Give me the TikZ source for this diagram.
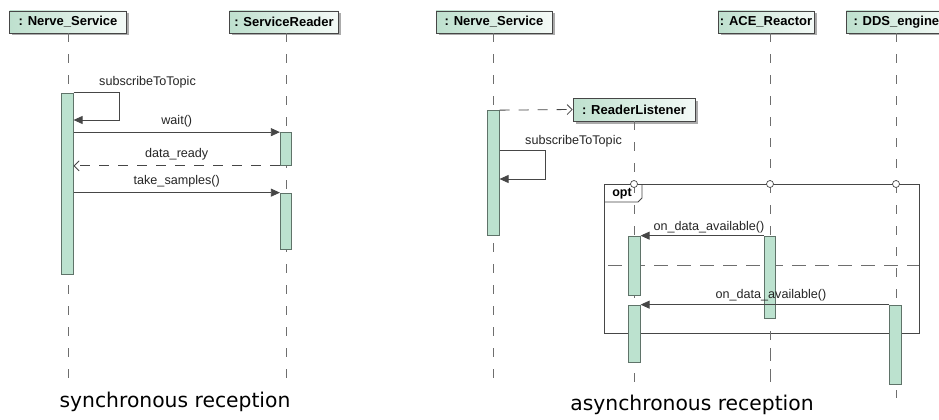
\documentclass[tikz,border=0pt]{standalone}
\usepackage{fontspec}
\setmainfont{Liberation Sans}
\newfontfamily\capfont{DejaVu Sans}
\usetikzlibrary{arrows.meta,shadows,calc}
\definecolor{lineC}{RGB}{70,70,70}
\definecolor{actfill}{RGB}{188,226,207}
\definecolor{actline}{RGB}{95,115,105}
\definecolor{objL}{RGB}{190,224,206}
\definecolor{objR}{RGB}{244,250,247}
\definecolor{shadowC}{RGB}{150,150,150}
\definecolor{lifeC}{RGB}{110,110,110}
\tikzset{
  obj/.style={draw=lineC, line width=0.7pt, left color=objL, right color=objR,
    minimum height=22pt, inner sep=0pt, font=\fontsize{13}{15}\selectfont\bfseries,
    drop shadow={shadow xshift=2.5pt, shadow yshift=-2.5pt, fill=shadowC, opacity=0.8}},
  act/.style={draw=actline, fill=actfill, line width=0.7pt, minimum width=11.5pt, inner sep=0pt},
  life/.style={draw=lifeC, line width=0.7pt, dash pattern=on 9pt off 12pt},
  msg/.style={draw=lineC, line width=0.8pt, -{Triangle[length=9pt,width=8pt]}},
  ret/.style={draw=lineC, line width=0.8pt, dash pattern=on 10pt off 9pt, -{Straight Barb[length=5pt,width=10pt]}},
  lbl/.style={font=\fontsize{12.6}{14}\selectfont, text=black!85, inner sep=0pt},
  frm/.style={draw=lineC, line width=0.8pt},
  captxt/.style={font=\capfont\fontsize{20.3}{23}\selectfont, inner sep=0pt}
}
\begin{document}
\begin{tikzpicture}[x=1pt,y=-1pt]
\useasboundingbox[fill=white] (0,0) rectangle (939,420);

% ---------------- left diagram ----------------
\node[obj, minimum width=117pt] (ns1) at (68,22) {: Nerve\_Service};
\node[obj, minimum width=109pt] (sr1) at (284,22) {: ServiceReader};
\coordinate (ns1end) at (68,390);
\coordinate (sr1end) at (286,390);
\draw[life] (ns1.south -| ns1end) -- (ns1end);
\draw[life] (sr1.south -| sr1end) -- (sr1end);

\node[act, minimum height=181pt] (nsA) at (67.5,183.5) {};
\node[act, minimum height=33pt] (srA1) at (286,149) {};
\node[act, minimum height=56pt] (srA2) at (286,221) {};

\coordinate (loop1) at (119,120);
\draw[msg] (nsA.north east) -| (loop1) -- (nsA.east |- loop1);
\node[lbl, anchor=west] (l1) at (99,82) {subscribeToTopic};

\draw[msg] (nsA.east |- srA1.north) -- node[lbl, above=5pt] (l2) {wait()} (srA1.north west);
\draw[ret] (srA1.south west) -- node[lbl, above=5pt] (l3) {data\_ready} (nsA.east |- srA1.south);
\draw[msg] (nsA.east |- srA2.north) -- node[lbl, above=5pt] (l4) {take\_samples()} (srA2.north west);

\node[captxt] (c1) at (175,402) {synchronous reception};

% ---------------- right diagram ----------------
\node[obj, minimum width=116pt] (ns2) at (494,22) {: Nerve\_Service};
\node[obj, minimum width=96pt] (ace) at (766,22) {: ACE\_Reactor};
\node[obj, minimum width=100pt, anchor=west] (dds) at (846,22) {: DDS\_engine\hspace{6pt}};
\coordinate (ns2end) at (493,390);
\coordinate (aceend) at (770,390);
\coordinate (ddsend) at (896,398);
\draw[life] (ns2.south -| ns2end) -- (ns2end);
\draw[life] (ace.south -| aceend) -- (aceend);
\draw[life] (dds.south -| ddsend) -- (ddsend);

\node[act, minimum height=125pt] (nsB) at (493.5,173) {};

\node[obj, minimum width=122pt, minimum height=23pt] (rl) at (634,109.5) {: ReaderListener};
\coordinate (rlend) at (634,390);
\draw[life] (rl.south) -- (rlend);

\draw[ret] (nsB.north east) -- (rl.west);

\coordinate (loop2) at (545,179);
\draw[msg] (nsB.east |- 0,150) -| (loop2) -- (nsB.east |- loop2);
\node[lbl, anchor=west] (l5) at (525,141) {subscribeToTopic};

% opt frame
\coordinate (fTL) at (604,184);
\coordinate (fBR) at (919,333);
\draw[frm, fill=white] (fTL) rectangle (fBR);
\draw[frm] (604,202) -- (638,202) -- (642,198) -- (642,184);
\node[font=\fontsize{12.5}{14}\selectfont\bfseries, inner sep=0pt] (opt) at (622,193.5) {opt};
\draw[life, dash pattern=on 14pt off 9pt] (608,265) -- (919,265);
% lifelines inside frame
\draw[life] (634,184) -- (rlend);
\draw[life] (770,184) -- (aceend);
\draw[life] (896,184) -- (ddsend);
\foreach \cx/\nm in {634/c1o,770/c2o,896/c3o}
  \node[circle, draw=lineC, fill=white, line width=0.7pt, minimum size=7pt, inner sep=0pt] (\nm) at (\cx,184) {};

\node[act, minimum height=59pt] (rlA1) at (634.5,265.5) {};
\node[act, minimum height=57pt] (rlA2) at (634.5,333.5) {};
\node[act, minimum height=82pt] (aceA) at (770,277) {};
\node[act, minimum height=79pt] (ddsA) at (895.5,344.5) {};

\draw[msg] (aceA.north west) -- (rlA1.north east);
\node[lbl] (l6) at (709,227) {on\_data\_available()};
\draw[msg] (ddsA.north west) -- (rlA2.north east);
\node[lbl] (l7) at (771,295) {on\_data\_available()};

\node[captxt] (c2) at (692,405) {asynchronous reception};
\end{tikzpicture}
\end{document}
